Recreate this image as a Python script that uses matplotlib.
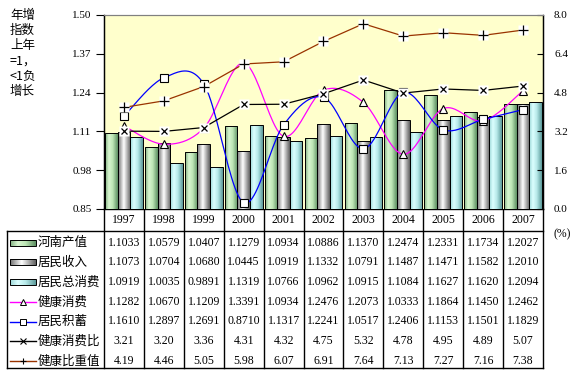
import numpy as np
import matplotlib
matplotlib.use("Agg")
import matplotlib.pyplot as plt
from matplotlib.colors import LinearSegmentedColormap
from matplotlib.lines import Line2D
from matplotlib.patches import Rectangle

years = ["1997", "1998", "1999", "2000", "2001", "2002", "2003", "2004", "2005", "2006", "2007"]
henan_output = [1.1033, 1.0579, 1.0407, 1.1279, 1.0934, 1.0886, 1.1370, 1.2474, 1.2331, 1.1734, 1.2027]
income = [1.1073, 1.0704, 1.0680, 1.0445, 1.0919, 1.1332, 1.0791, 1.1487, 1.1471, 1.1582, 1.2010]
total_consumption = [1.0919, 1.0035, 0.9891, 1.1319, 1.0766, 1.0962, 1.0915, 1.1084, 1.1627, 1.1620, 1.2094]
health_consumption = [1.1282, 1.0670, 1.1209, 1.3391, 1.0934, 1.2476, 1.2073, 1.0333, 1.1864, 1.1450, 1.2462]
savings = [1.1610, 1.2897, 1.2691, 0.8710, 1.1317, 1.2241, 1.0517, 1.2406, 1.1153, 1.1501, 1.1829]
health_ratio = [3.21, 3.20, 3.36, 4.31, 4.32, 4.75, 5.32, 4.78, 4.95, 4.89, 5.07]
health_share = [4.19, 4.46, 5.05, 5.98, 6.07, 6.91, 7.64, 7.13, 7.27, 7.16, 7.38]

names = ["河南产值", "居民收入", "居民总消费", "健康消费", "居民积蓄", "健康消费比", "健康比重值"]

cjk = ["Noto Sans CJK SC", "DejaVu Sans"]
serif = "Liberation Serif"

grad_green = LinearSegmentedColormap.from_list("g", [(0, "#7fae7f"), (0.3, "#d8f6d0"), (0.6, "#bde6b5"), (1, "#5d8f62")])
grad_gray = LinearSegmentedColormap.from_list("k", [(0, "#707070"), (0.45, "#ffffff"), (1, "#606060")])
grad_cyan = LinearSegmentedColormap.from_list("c", [(0, "#9ad6d6"), (0.3, "#dcffff"), (0.6, "#b8eaea"), (1, "#5c9a9a")])


def smooth(x, y, n=24):
    pts = np.column_stack([x, y]).astype(float)
    out = []
    for i in range(len(pts) - 1):
        p0 = pts[max(i - 1, 0)]
        p1 = pts[i]
        p2 = pts[i + 1]
        p3 = pts[min(i + 2, len(pts) - 1)]
        c1 = p1 + (p2 - p0) / 6
        c2 = p2 - (p3 - p1) / 6
        t = np.linspace(0, 1, n)[:, None]
        seg = (1 - t) ** 3 * p1 + 3 * (1 - t) ** 2 * t * c1 + 3 * (1 - t) * t ** 2 * c2 + t ** 3 * p2
        out.append(seg if i == 0 else seg[1:])
    s = np.vstack(out)
    return s[:, 0], s[:, 1]


W, H = 577, 375
fig = plt.figure(figsize=(W / 100, H / 100), dpi=100)
L, R, T, B = 104, 543, 15, 209
ax = fig.add_axes([L / W, 1 - B / H, (R - L) / W, (B - T) / H])
ax.set_facecolor("#FFFFCC")
ax2 = ax.twinx()

ymin, ymax = 0.85, 1.50
x = np.arange(len(years))
bw = 0.315
grads = [grad_green, grad_gray, grad_cyan]
series = [henan_output, income, total_consumption]
gradient = np.linspace(0, 1, 64)[None, :]
for k, (vals, cm) in enumerate(zip(series, grads)):
    bars = ax.bar(x + (k - 1) * bw, vals, bw, facecolor="none", edgecolor="black", linewidth=0.7, zorder=3)
    for b in bars:
        im = ax.imshow(gradient, cmap=cm, aspect="auto", zorder=2,
                       extent=[b.get_x(), b.get_x() + b.get_width(), ymin, b.get_height()])
        im.set_clip_path(b)

sx, sy = smooth(x, health_consumption)
ax.plot(sx, sy, color="#FF00FF", lw=0.9, zorder=4)
ax.plot(x, health_consumption, ls="none", marker="^", ms=6, mfc="white", mec="black", mew=0.8, zorder=5)
sx, sy = smooth(x, savings)
ax.plot(sx, sy, color="#0000FF", lw=0.9, zorder=4)
ax.plot(x, savings, ls="none", marker="s", ms=5.5, mfc="white", mec="black", mew=0.8, zorder=5)

ax2.plot(x, health_ratio, color="black", lw=0.9)
ax2.plot(x, health_ratio, ls="none", marker="s", ms=6.5, mfc="white", mec="none")
ax2.plot(x, health_ratio, ls="none", marker="x", ms=5, mec="black", mew=0.9)
ax2.plot(x, health_share, color="#993300", lw=0.9)
ax2.plot(x, health_share, ls="none", marker="s", ms=6.5, mfc="white", mec="none")
ax2.plot(x, health_share, ls="none", marker="+", ms=6.5, mec="black", mew=0.9)

ax.set_xlim(-0.5, len(years) - 0.5)
ax.set_ylim(ymin, ymax)
ax2.set_ylim(0, 8.0)
ax.set_xticks([])
ax.set_yticks(np.round(np.arange(0.85, 1.501, 0.13), 2))
ax.set_yticklabels(["%.2f" % v for v in ax.get_yticks()], fontfamily=serif, fontsize=8)
ax.tick_params(axis="y", direction="out", length=6, width=0.8, pad=3)
ax2.set_yticks(np.round(np.arange(0, 8.01, 1.6), 1))
ax2.set_yticklabels(["%.1f" % v for v in ax2.get_yticks()], fontfamily=serif, fontsize=8)
ax2.tick_params(axis="y", direction="in", length=4, width=0.8, pad=8)
for a in (ax, ax2):
    a.spines["top"].set_color("#808080")
    a.spines["bottom"].set_visible(False)
    a.spines["left"].set_linewidth(0.9)
    a.spines["right"].set_linewidth(0.9)

# table below the plot
tab = fig.add_axes([0, 0, 1, 1], zorder=-1)
tab.set_xlim(0, W)
tab.set_ylim(H, 0)
tab.axis("off")
colw = (R - L) / len(years)
top_line, bot_line, left_x = 231, 368, 7
lk = dict(color="black", lw=1.0)
tab.add_line(Line2D([L, R], [B, B], **lk))
tab.add_line(Line2D([left_x, R], [top_line, top_line], **lk))
tab.add_line(Line2D([left_x, R], [bot_line, bot_line], **lk))
tab.add_line(Line2D([left_x, left_x], [top_line, bot_line], **lk))
for i in range(len(years) + 1):
    tab.add_line(Line2D([L + i * colw] * 2, [B, bot_line], **lk))
for i, yr in enumerate(years):
    tab.text(L + (i + 0.5) * colw, 220, yr, ha="center", va="center", fontfamily=serif, fontsize=8.5)

rows = [henan_output, income, total_consumption, health_consumption, savings, health_ratio, health_share]
row_y0, row_dy = 242.7, 19.7
for r, (name, vals) in enumerate(zip(names, rows)):
    yy = row_y0 + r * row_dy
    fmt = "%.2f" if r >= 5 else "%.4f"
    for i, v in enumerate(vals):
        tab.text(L + (i + 0.5) * colw, yy, fmt % v, ha="center", va="center", fontfamily=serif, fontsize=8.5)
    tab.text(38, yy, name, ha="left", va="center", fontfamily=cjk, fontsize=9)
    if r < 3:
        tab.add_patch(Rectangle((10, yy - 3), 26, 6, facecolor="none", edgecolor="black", lw=0.7, zorder=3))
        im = tab.imshow(np.linspace(0, 1, 64)[:, None].T, cmap=grads[r], aspect="auto",
                        extent=[10, 36, yy + 3, yy - 3], zorder=2)
        im.set_clip_on(False)

key_styles = [("#FF00FF", "^", "white", 4.5, 0.7), ("#0000FF", "s", "white", 4, 0.7),
              ("black", "x", "none", 4, 0.8), ("#993300", "+", "none", 5, 0.8)]
for j, (c, m, mf, ms, mw) in enumerate(key_styles):
    yy = row_y0 + (j + 3) * row_dy
    tab.add_line(Line2D([10, 36], [yy, yy], color=c, lw=1.0))
    if mf == "white":
        tab.add_line(Line2D([23], [yy], ls="none", marker=m, ms=ms, mfc="white", mec="black", mew=mw))
    else:
        tab.add_line(Line2D([23], [yy], ls="none", marker=m, ms=ms, mec="black", mew=mw))

tab.text(553, 234, "(%)", ha="left", va="center", fontfamily=serif, fontsize=8.5)
for i, s in enumerate(["年增", "指数", "上年", "=1，", "<1负", "增长"]):
    tab.text(10, 15 + i * 15.3, s, ha="left", va="center", fontfamily=cjk, fontsize=9)

fig.savefig("out.png", dpi=100)
